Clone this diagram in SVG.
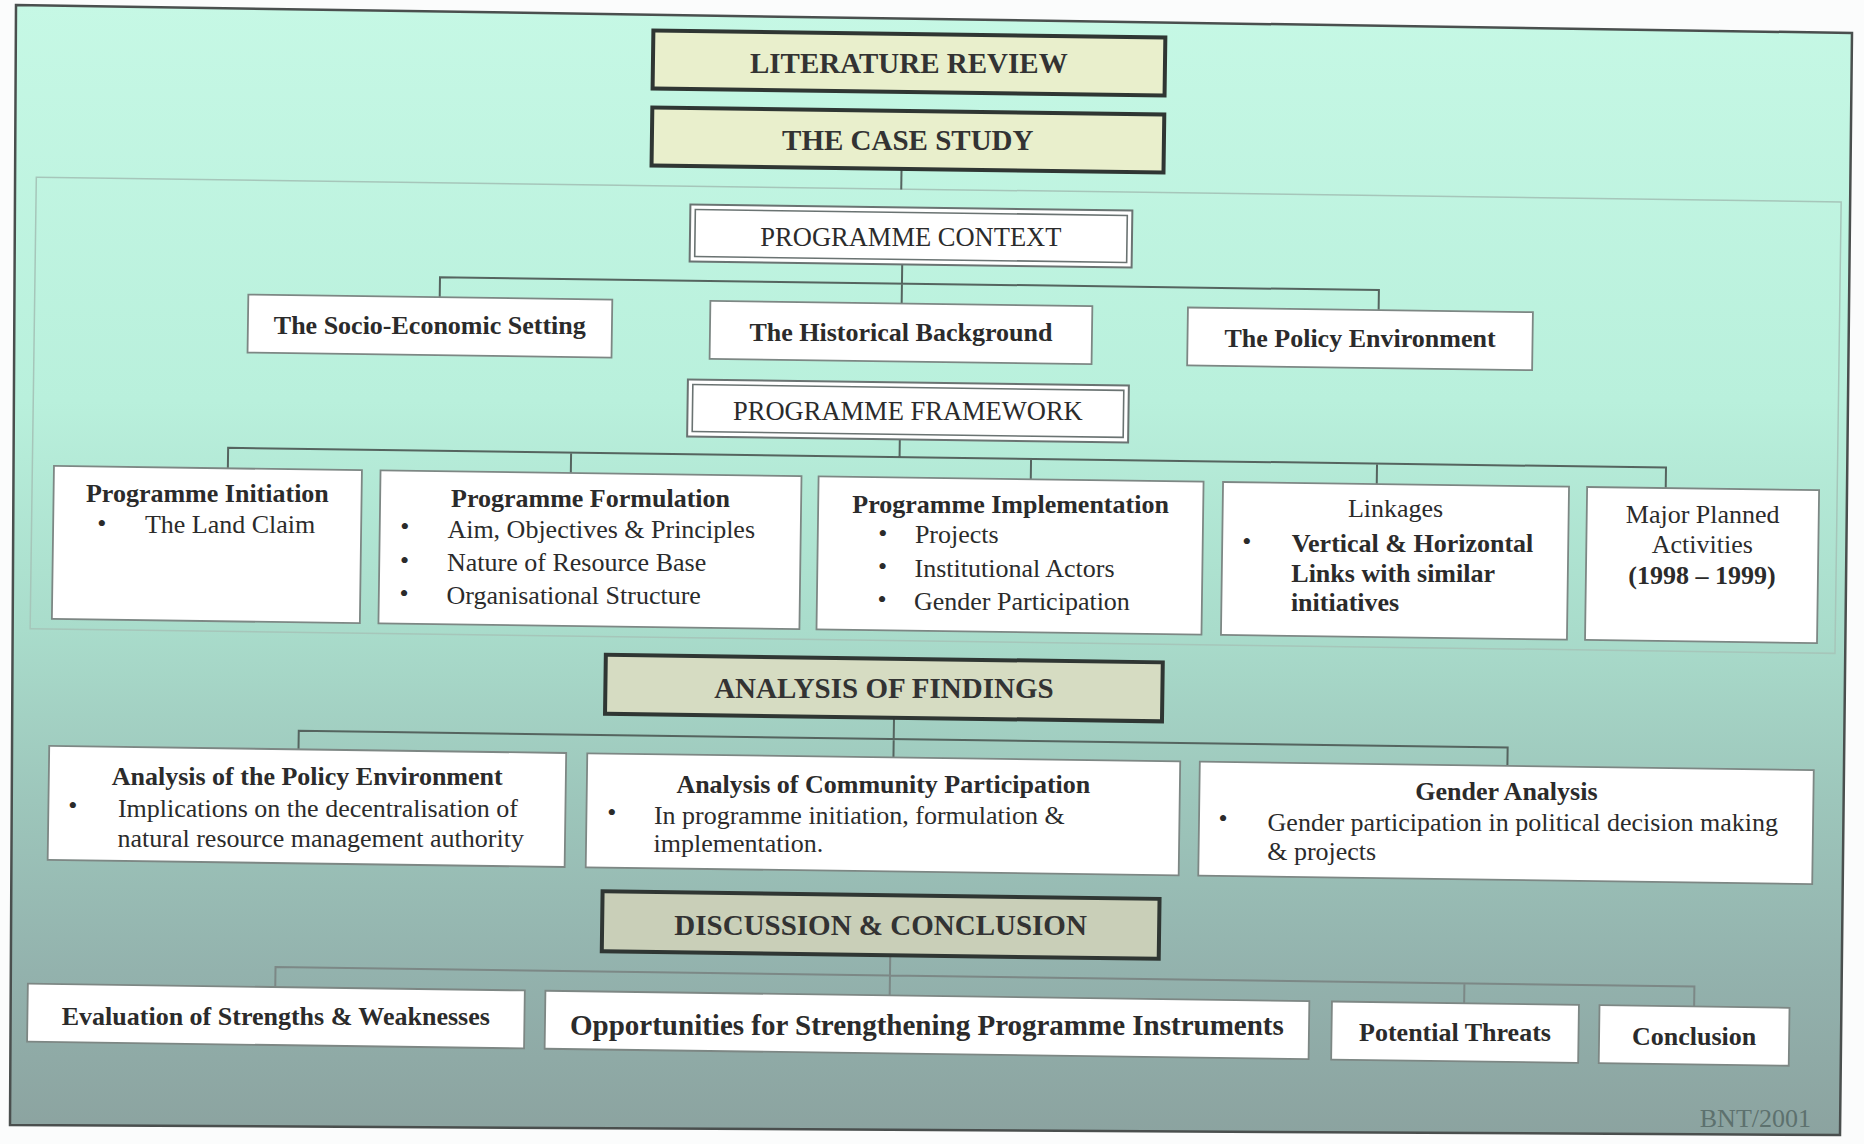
<svg xmlns="http://www.w3.org/2000/svg" width="1864" height="1144" viewBox="0 0 1864 1144">
<defs>
<linearGradient id="bg" gradientUnits="userSpaceOnUse" x1="0" y1="0" x2="0" y2="1144">
<stop offset="0" stop-color="#c6f8e5"/>
<stop offset="0.35" stop-color="#b9f0dc"/>
<stop offset="0.55" stop-color="#a9dccb"/>
<stop offset="0.7" stop-color="#9dc6bb"/>
<stop offset="0.85" stop-color="#93b2ad"/>
<stop offset="1" stop-color="#8ba29f"/>
</linearGradient>
<style>
.t{font-family:"Liberation Serif","Times New Roman",serif;fill:#2b2b2b}
.h{font-size:29px;font-weight:bold;text-anchor:middle;fill:#333}
.b{font-size:26px;font-weight:bold}
.r{font-size:26px}
.m{text-anchor:middle}
.hb{stroke:#2f3633;stroke-width:4}
.wb{fill:#fff;stroke:#7d8784;stroke-width:1.8}
.db{fill:none;stroke:#6a7372;stroke-width:1.6}
.cn{fill:none;stroke:#55645f;stroke-width:2}
.cn2{fill:none;stroke:#7c8886;stroke-width:2}
</style>
</defs>
<rect width="1864" height="1144" fill="#fbfcfc"/>
<polygon points="16,5 1852,33 1840,1135 10,1125" fill="url(#bg)" stroke="#4a4f4e" stroke-width="2.5"/>
<g transform="rotate(0.785 932 572)">
<rect x="31" y="189.5" width="1805" height="451.5" fill="none" stroke="#a6c6ba" stroke-width="1.5"/>
<g id="connectors">
<path class="cn" d="M896 169.3V190"/>
<path class="cn" d="M898 264.8V284M436 304V284H1375V304M898 284V304"/>
<path class="cn" d="M898 439.8V457.5M226.5 478V457.5H1664.5V478M569.5 457.5V478M1029.5 457.5V478M1375.5 457.5V478"/>
<path class="cn" d="M896 718.2V758M301 758V739.5H1510V758"/>
<path class="cn2" d="M895.5 955.7V996M281 996V976H1700V996M1470 976V996"/>
</g>
</g>
<g id="literature-review">
<g transform="rotate(0.785 932 572)"><rect class="hb" x="646" y="34.3" width="512" height="58" fill="#e9efcc"/></g>
<text class="t h" x="908.8" y="73.1">LITERATURE REVIEW</text>
</g>
<g id="case-study">
<g transform="rotate(0.785 932 572)"><rect class="hb" x="646" y="111.3" width="512" height="58" fill="#e9efcc"/></g>
<text class="t h" x="907.8" y="150.1">THE CASE STUDY</text>
</g>
<g id="programme-context">
<g transform="rotate(0.785 932 572)"><rect x="685.4" y="207.8" width="442" height="57" fill="#fff" stroke="#6a7372" stroke-width="2"/>
<rect class="db" x="690.4" y="212.8" width="432" height="47"/></g>
<text class="t m" x="910.9" y="245.5" style="font-size:26.5px">PROGRAMME CONTEXT</text>
</g>
<g id="socio-economic">
<g transform="rotate(0.785 932 572)"><rect class="wb" x="244.6" y="304" width="364" height="58"/></g>
<text class="t b m" x="429.8" y="334.1">The Socio-Economic Setting</text>
</g>
<g id="historical">
<g transform="rotate(0.785 932 572)"><rect class="wb" x="706.7" y="304" width="382" height="58"/></g>
<text class="t b m" x="900.9" y="340.5">The Historical Background</text>
</g>
<g id="policy-environment">
<g transform="rotate(0.785 932 572)"><rect class="wb" x="1184.3" y="304" width="345" height="58"/></g>
<text class="t b m" x="1360" y="346.8">The Policy Environment</text>
</g>
<g id="programme-framework">
<g transform="rotate(0.785 932 572)"><rect x="685.3" y="382.8" width="441" height="57" fill="#fff" stroke="#6a7372" stroke-width="2"/>
<rect class="db" x="690.3" y="387.8" width="431" height="47"/></g>
<text class="t m" x="907.9" y="420.4" style="font-size:26.5px">PROGRAMME FRAMEWORK</text>
</g>
<g id="initiation">
<g transform="rotate(0.785 932 572)"><rect class="wb" x="52.6" y="478" width="308" height="153"/></g>
<text class="t b m" x="207.4" y="502.1">Programme Initiation</text>
<text class="t r m" x="101.9" y="531.6">•</text>
<text class="t r" x="144.9" y="533.4">The Land Claim</text>
</g>
<g id="formulation">
<g transform="rotate(0.785 932 572)"><rect class="wb" x="379.2" y="478" width="421" height="153"/></g>
<text class="t b m" x="590.5" y="507.3">Programme Formulation</text>
<text class="t r m" x="404.9" y="534.8">•</text>
<text class="t r" x="447.4" y="537.5">Aim, Objectives &amp; Principles</text>
<text class="t r m" x="404.5" y="568.8">•</text>
<text class="t r" x="447" y="571.2">Nature of Resource Base</text>
<text class="t r m" x="404" y="601.8">•</text>
<text class="t r" x="446.5" y="604.1">Organisational Structure</text>
</g>
<g id="implementation">
<g transform="rotate(0.785 932 572)"><rect class="wb" x="817.3" y="478" width="385" height="153"/></g>
<text class="t b m" x="1010.6" y="512.8">Programme Implementation</text>
<text class="t r m" x="882.9" y="541.6">•</text>
<text class="t r" x="914.9" y="542.7">Projects</text>
<text class="t r m" x="882.5" y="575.3">•</text>
<text class="t r" x="914.5" y="577.2">Institutional Actors</text>
<text class="t r m" x="882" y="608.3">•</text>
<text class="t r" x="914" y="610.3">Gender Participation</text>
</g>
<g id="linkages">
<g transform="rotate(0.785 932 572)"><rect class="wb" x="1221.8" y="478" width="346" height="153"/></g>
<text class="t r m" x="1395.6" y="517.3">Linkages</text>
<text class="t r m" x="1246.7" y="549.8">•</text>
<text class="t b" x="1291.7" y="552.1">Vertical &amp; Horizontal</text>
<text class="t b" x="1291.3" y="581.8">Links with similar</text>
<text class="t b" x="1290.9" y="611.2">initiatives</text>
</g>
<g id="major-planned">
<g transform="rotate(0.785 932 572)"><rect class="wb" x="1585.9" y="478" width="232" height="153"/></g>
<text class="t r m" x="1702.7" y="522.5">Major Planned</text>
<text class="t r m" x="1702.3" y="552.5">Activities</text>
<text class="t b m" x="1701.9" y="583.5">(1998 – 1999)</text>
</g>
<g id="analysis-of-findings">
<g transform="rotate(0.785 932 572)"><rect class="hb" x="607" y="659.2" width="557" height="59" fill="#d6dcc2"/></g>
<text class="t h" x="883.9" y="697.9">ANALYSIS OF FINDINGS</text>
</g>
<g id="analysis-policy">
<g transform="rotate(0.785 932 572)"><rect class="wb" x="51.7" y="758" width="517" height="114"/></g>
<text class="t b m" x="307.2" y="784.5">Analysis of the Policy Environment</text>
<text class="t r m" x="72.9" y="813.8">•</text>
<text class="t r" x="117.9" y="817.1">Implications on the decentralisation of</text>
<text class="t r" x="117.5" y="847.2">natural resource management authority</text>
</g>
<g id="analysis-community">
<g transform="rotate(0.785 932 572)"><rect class="wb" x="589.8" y="758" width="593" height="114"/></g>
<text class="t b m" x="883.3" y="793.4">Analysis of Community Participation</text>
<text class="t r m" x="611.9" y="820.7">•</text>
<text class="t r" x="653.9" y="824.1">In programme initiation, formulation &amp;</text>
<text class="t r" x="653.5" y="852.4">implementation.</text>
</g>
<g id="gender-analysis">
<g transform="rotate(0.785 932 572)"><rect class="wb" x="1202.4" y="758" width="614" height="114"/></g>
<text class="t b m" x="1506.4" y="799.9">Gender Analysis</text>
<text class="t r m" x="1223" y="827">•</text>
<text class="t r" x="1267.6" y="831.1">Gender participation in political decision making</text>
<text class="t r" x="1267.2" y="860.4">&amp; projects</text>
</g>
<g id="discussion-conclusion">
<g transform="rotate(0.785 932 572)"><rect class="hb" x="607" y="895.7" width="557" height="60" fill="#c9cfb8"/></g>
<text class="t h" x="880.6" y="935.1">DISCUSSION &amp; CONCLUSION</text>
</g>
<g id="evaluation">
<g transform="rotate(0.785 932 572)"><rect class="wb" x="33.6" y="996" width="497" height="58"/></g>
<text class="t b m" x="275.8" y="1025.1">Evaluation of Strengths &amp; Weaknesses</text>
</g>
<g id="opportunities">
<g transform="rotate(0.785 932 572)"><rect class="wb" x="551.2" y="996" width="764" height="58"/></g>
<text class="t m" x="926.9" y="1035" style="font-size:29px;font-weight:bold">Opportunities for Strengthening Programme Instruments</text>
</g>
<g id="threats">
<g transform="rotate(0.785 932 572)"><rect class="wb" x="1337.8" y="996" width="247" height="58"/></g>
<text class="t b m" x="1455" y="1041.3">Potential Threats</text>
</g>
<g id="conclusion">
<g transform="rotate(0.785 932 572)"><rect class="wb" x="1605.4" y="996" width="190" height="58"/></g>
<text class="t b m" x="1694.1" y="1044.5">Conclusion</text>
</g>
<text class="t r" x="1811" y="1127.4" style="text-anchor:end;fill:#5d716e">BNT/2001</text>
</svg>
